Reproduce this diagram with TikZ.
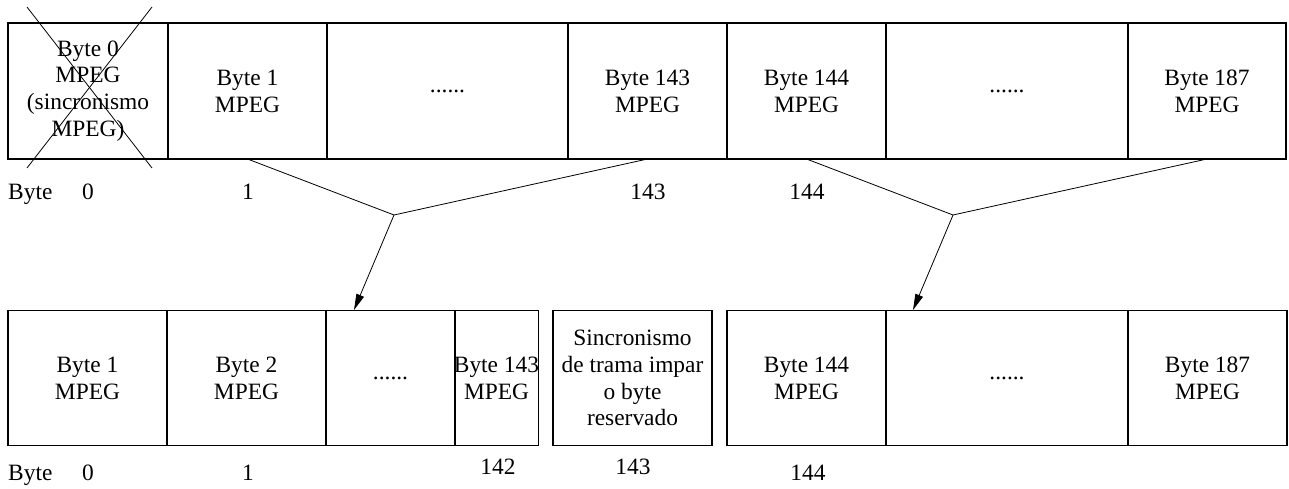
\documentclass[tikz,border=0pt]{standalone}
\usepackage{fontspec}
\setmainfont{Liberation Serif}
\usepackage{tikz}
\usetikzlibrary{arrows.meta}
\usetikzlibrary{positioning}

\begin{document}
\begin{tikzpicture}[x=1pt,y=-1pt,
		cell/.style={draw,line width=1.1pt,minimum height=136pt,inner sep=0pt,outer sep=0pt,align=center,font=\fontsize{23.4pt}{26.8pt}\selectfont},
		lab/.style={inner sep=0pt,anchor=base,font=\fontsize{23.4pt}{26.8pt}\selectfont},
		link/.style={line width=0.8pt},
		every path/.style={line cap=butt}]
		\useasboundingbox (0,0) rectangle (1289,489);
		% fila superior
		\node[cell,minimum width=160pt] (t0) at (88,91) {Byte 0\\MPEG\\(sincronismo\\MPEG)};
		\node[cell,minimum width=159pt] (t1) at (247.5,91) {Byte 1\\MPEG};
		\node[cell,minimum width=241pt] (t2) at (447.5,91) {......};
		\node[cell,minimum width=159pt] (t143) at (647.5,91) {Byte 143\\MPEG};
		\node[cell,minimum width=159pt] (t144) at (806.5,91) {Byte 144\\MPEG};
		\node[cell,minimum width=242pt] (t3) at (1007,91) {......};
		\node[cell,minimum width=158pt] (t187) at (1207,91) {Byte 187\\MPEG};
		\draw[link] (27,7) -- (152,168); \draw[link] (152,7) -- (27,168);
		
		\node[lab,anchor=base west] (lt) at (8,199) {Byte};
		\node[lab] (lt0) at (88,199) {0};
		\node[lab] (lt1) at (248,199) {1};
		\node[lab] (lt143) at (648,199) {143};
		\node[lab] (lt144) at (807,199) {144};
		
		% fila inferior
		\node[cell,minimum width=159pt,minimum height=135pt] (b1) at (87.5,378) {Byte 1\\MPEG};
		\node[cell,minimum width=159pt,minimum height=135pt] (b2) at (246.5,378) {Byte 2\\MPEG};
		\node[cell,minimum width=129pt,minimum height=135pt] (b3) at (390.5,378) {......};
		\node[cell,minimum width=83pt,minimum height=135pt,inner xsep=-1pt] (b143) at (496.5,378) {Byte 143\\MPEG};
		\node[cell,minimum width=159pt,minimum height=135pt] (bs) at (632.5,378) {Sincronismo\\de trama impar\\o byte\\reservado};
		\node[cell,minimum width=159pt,minimum height=135pt] (b144) at (806.5,378) {Byte 144\\MPEG};
		\node[cell,minimum width=242pt,minimum height=135pt] (b4) at (1007,378) {......};
		\node[cell,minimum width=159pt,minimum height=135pt] (b187) at (1207.5,378) {Byte 187\\MPEG};
		
		\node[lab,anchor=base west] (lb) at (8,480) {Byte};
		\node[lab] (lb0) at (88,480) {0};
		\node[lab] (lb1) at (248,480) {1};
		\node[lab] (lb142) at (498,474) {142};
		\node[lab] (lb143) at (633,474) {143};
		\node[lab] (lb144) at (808,480) {144};
		
		% embudos
		\coordinate (j1) at (394,215);
		\coordinate (a1) at (354,310);
		\coordinate (j2) at (953,215);
		\coordinate (a2) at (913,310);
		\draw[link] (t1.south) -- (j1) -- (t143.south);
		\draw[link,-{Triangle[length=16pt,width=8pt]}] (j1) -- (a1);
		\draw[link] (t144.south) -- (j2) -- (t187.south);
		\draw[link,-{Triangle[length=16pt,width=8pt]}] (j2) -- (a2);
	\end{tikzpicture}
\end{document}
